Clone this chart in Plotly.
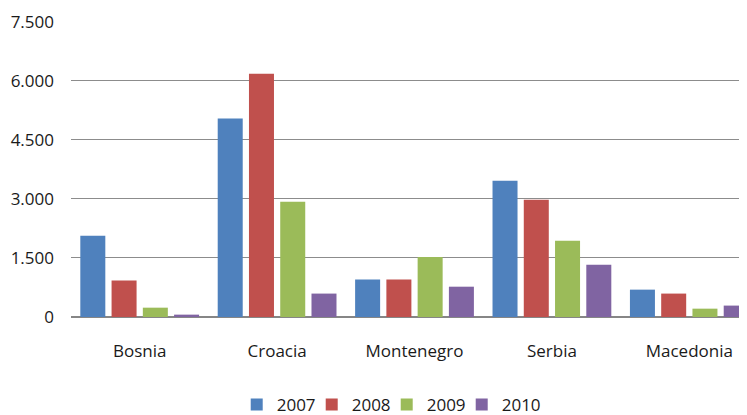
import plotly.graph_objects as go

countries = ["Bosnia", "Croacia", "Montenegro", "Serbia", "Macedonia"]
years = ["2007", "2008", "2009", "2010"]
v2007 = [2065, 5040, 950, 3460, 695]
v2008 = [925, 6180, 950, 2980, 595]
v2009 = [237, 2930, 1525, 1940, 212]
v2010 = [60, 595, 770, 1330, 290]
tick_vals = [0, 1500, 3000, 4500, 6000, 7500]
tick_text = ["0", "1.500", "3.000", "4.500", "6.000", "7.500"]

colors = ["#4F81BD", "#C0504D", "#9BBB59", "#8064A2"]
FONT = "Open Sans"

fig = go.Figure()
for i, (year, vals, col) in enumerate(zip(years, [v2007, v2008, v2009, v2010], colors)):
    fig.add_trace(
        go.Bar(
            x=countries,
            y=vals,
            name=year,
            marker=dict(color=col, line_width=0),
            # tighter legend spacing, last entry keeps its natural width
            legendwidth=30 if i < len(years) - 1 else None,
        )
    )

# page body has an 8px margin, so margins are pulled in by 8px
fig.update_layout(
    width=747,
    height=415,
    barmode="group",
    bargap=0.09,
    bargroupgap=0.2,
    plot_bgcolor="white",
    paper_bgcolor="white",
    font=dict(family=FONT, size=17, color="#1a1a1a"),
    margin=dict(l=63, r=0, t=13, b=106, autoexpand=False),
    showlegend=True,
    legend=dict(
        orientation="h",
        x=0.513,
        xref="container",
        xanchor="center",
        y=0.0,
        yref="container",
        yanchor="bottom",
        font=dict(size=17),
        itemwidth=30,
    ),
)
fig.update_xaxes(
    range=[-0.5, 4.478],
    showgrid=False,
    showline=False,
    ticks="",
    tickangle=0,
    ticklabelstandoff=22,
)
fig.update_yaxes(
    range=[0, 7520],
    tickvals=tick_vals,
    ticktext=tick_text,
    showgrid=True,
    gridcolor="#8C8C8C",
    gridwidth=1.3,
    zeroline=True,
    zerolinecolor="#868686",
    zerolinewidth=2,
    ticks="",
    ticklabelstandoff=16,
)

fig.write_html("out.html")
